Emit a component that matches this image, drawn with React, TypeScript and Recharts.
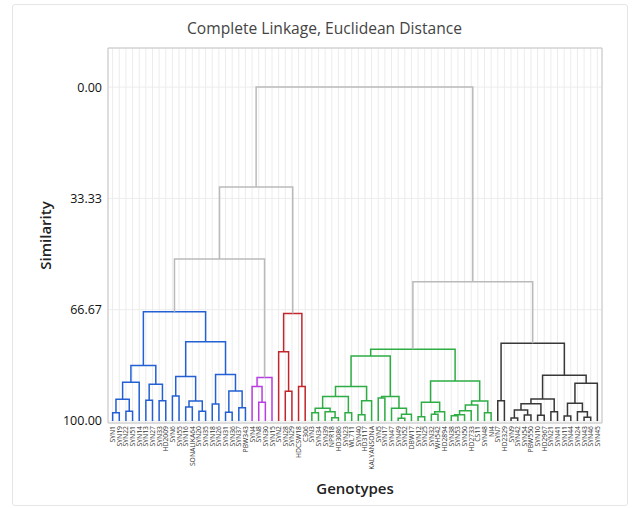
import React from 'react';
import {
  ComposedChart,
  Line,
  XAxis,
  YAxis,
  CartesianGrid,
  ReferenceArea,
  Label,
} from 'recharts';

// leaf order as it appears along the x axis
const leaves = [
  'SYN1', 'SYN19', 'SYN22', 'SYN51', 'SYN14', 'SYN13', 'SYN27', 'SYN33', 'HD2009', 'SYN6',
  'SYN55', 'SYN16', 'SONALIKA64', 'SYN20', 'SYN35', 'SYN18', 'SYN26', 'SYN31', 'SYN36', 'SYN37',
  'PBW343', 'SYN4', 'SYN8', 'SYN30', 'SYN15', 'SYN2', 'SYN28', 'SYN29', 'HDCSW18', 'C306',
  'SYN3', 'SYN34', 'SYN39', 'NPR18', 'HD3086', 'SYN23', 'WL711', 'SYN40', 'HD3117', 'KALYANSONA',
  'SYN5', 'SYN17', 'SYN47', 'SYN49', 'SYN52', 'DBW17', 'SYN12', 'SYN25', 'SYN32', 'WH542',
  'HD2894', 'SYN38', 'SYN53', 'SYN50', 'HD2733', 'CS11', 'SYN48', 'NI4', 'SYN7', 'HD2329',
  'SYN9', 'SYN42', 'SYN54', 'PBW550', 'SYN10', 'HD2967', 'SYN21', 'SYN41', 'SYN11', 'SYN44',
  'SYN24', 'SYN43', 'SYN46', 'SYN45',
];

// merges: [left, right, similarity]; string = leaf, number = earlier merge
type Ref = string | number;
const merges: [Ref, Ref, number][] = [
  ['SYN1', 'SYN19', 97.5],
  ['SYN22', 'SYN51', 97.1],
  [0, 1, 93.5],
  [2, 'SYN14', 88.4],
  ['SYN13', 'SYN27', 93.8],
  ['SYN33', 'HD2009', 93.9],
  [4, 5, 89.0],
  [3, 6, 83.4],
  ['SYN6', 'SYN55', 92.5],
  ['SYN16', 'SONALIKA64', 95.8],
  ['SYN20', 'SYN35', 97.1],
  [9, 10, 94.0],
  [8, 11, 86.7],
  ['SYN18', 'SYN26', 94.9],
  ['SYN31', 'SYN36', 97.4],
  ['SYN37', 'PBW343', 96.0],
  [14, 15, 91.0],
  [13, 16, 86.1],
  [12, 17, 76.3],
  [7, 18, 67.3],
  ['SYN8', 'SYN30', 94.4],
  ['SYN4', 20, 89.7],
  [21, 'SYN15', 87.0],
  ['SYN28', 'SYN29', 91.1],
  ['SYN2', 23, 79.3],
  ['HDCSW18', 'C306', 89.7],
  [24, 25, 67.8],
  [19, 22, 51.5],
  [27, 26, 29.9],
  ['SYN3', 'SYN34', 97.5],
  ['NPR18', 'HD3086', 99.0],
  ['SYN39', 30, 97.2],
  [29, 31, 96.2],
  ['SYN23', 'WL711', 97.5],
  [32, 33, 92.7],
  ['SYN40', 'HD3117', 98.1],
  [35, 'KALYANSONA', 93.9],
  [34, 36, 89.7],
  ['SYN5', 'SYN17', 93.1],
  ['SYN49', 'SYN52', 99.2],
  [39, 'DBW17', 98.0],
  ['SYN47', 40, 96.2],
  [38, 41, 92.7],
  [37, 42, 80.5],
  ['SYN12', 'SYN25', 98.7],
  ['SYN32', 'WH542', 98.0],
  [45, 'HD2894', 97.2],
  [44, 46, 94.4],
  ['SYN38', 'SYN53', 98.4],
  [48, 'SYN50', 98.1],
  [49, 'HD2733', 96.9],
  [50, 'CS11', 95.2],
  ['SYN48', 'NI4', 97.5],
  [51, 52, 94.0],
  [47, 53, 88.0],
  [43, 54, 78.5],
  ['SYN7', 'HD2329', 93.9],
  ['SYN9', 'SYN42', 99.1],
  ['SYN54', 'PBW550', 98.2],
  [57, 58, 96.7],
  ['SYN10', 'HD2967', 98.3],
  [59, 60, 94.8],
  ['SYN21', 'SYN41', 97.2],
  [61, 62, 93.4],
  ['SYN11', 'SYN44', 98.5],
  ['SYN43', 'SYN46', 98.9],
  ['SYN24', 65, 97.2],
  [64, 66, 94.7],
  [67, 'SYN45', 88.7],
  [63, 68, 86.3],
  [56, 69, 76.7],
  [55, 70, 58.3],
  [28, 71, 0],
];

// cluster roots (merge index) and their colours
const clusterColors: Record<number, string> = {
  19: '#2360d4',
  22: '#b83ee2',
  26: '#c1272d',
  55: '#2ead44',
  70: '#383838',
};
const upperColor = '#bababa';

const yTicks = [0, 33.33, 66.67, 100];

const pos = (r: Ref, nodes: { x: number; h: number }[]) =>
  typeof r === 'string' ? { x: leaves.indexOf(r), h: 100 } : nodes[r];

const nodes: { x: number; h: number }[] = [];
merges.forEach(([a, b, h]) => {
  nodes.push({ x: (pos(a, nodes).x + pos(b, nodes).x) / 2, h });
});

const colors: string[] = merges.map(() => upperColor);
const paint = (i: number, c: string) => {
  const col = clusterColors[i] ?? c;
  colors[i] = col;
  merges[i].slice(0, 2).forEach((r) => {
    if (typeof r === 'number') paint(r, col);
  });
};
paint(merges.length - 1, upperColor);

const links = merges.map(([a, b, h], i) => {
  const l = pos(a, nodes);
  const r = pos(b, nodes);
  return {
    color: colors[i],
    data: [
      { x: l.x, y: l.h },
      { x: l.x, y: h },
      { x: r.x, y: h },
      { x: r.x, y: r.h },
    ],
  };
});

const font = '"Open Sans", "Noto Sans", sans-serif';

const LeafTick = ({ x, y, payload }: any) => (
  <text
    x={x}
    y={y}
    transform={`rotate(-90 ${x} ${y})`}
    textAnchor="end"
    dominantBaseline="central"
    fontSize={6.8}
    fontFamily={font}
    fill="#333"
  >
    {leaves[payload.value]}
  </text>
);

export default function App() {
  return (
    <div style={{ position: 'absolute', left: 0, top: 0, width: 639, height: 508, background: '#fff', fontFamily: font }}>
      <div
        style={{
          position: 'absolute',
          left: 12,
          top: 4,
          width: 614,
          height: 500,
          border: '1px solid #e6e6e6',
          borderRadius: 3,
        }}
      />
      <div
        style={{
          position: 'absolute',
          left: 0,
          width: 649,
          top: 18,
          lineHeight: '20px',
          textAlign: 'center',
          fontSize: 15.6,
          color: '#444',
        }}
      >
        Complete Linkage, Euclidean Distance
      </div>
      <div style={{ position: 'absolute', left: 0, top: 0 }}>
        <ComposedChart width={639} height={508} margin={{ top: 48, right: 37, bottom: 0, left: 0 }}>
          <CartesianGrid stroke="#ececec" />
          <XAxis
            type="number"
            dataKey="x"
            domain={[-0.7, 73.7]}
            ticks={leaves.map((_, i) => i)}
            interval={0}
            tick={<LeafTick />}
            tickLine={false}
            axisLine={false}
            tickSize={0}
            tickMargin={3}
            height={85}
            allowDataOverflow
          >
            <Label
              content={({ viewBox }: any) => (
                <text
                  x={viewBox.x + viewBox.width / 2}
                  y={488}
                  textAnchor="middle"
                  dominantBaseline="central"
                  fontSize={15}
                  fontWeight={600}
                  fontFamily={font}
                  fill="#222"
                >
                  Genotypes
                </text>
              )}
            />
          </XAxis>
          <YAxis
            type="number"
            dataKey="y"
            reversed
            domain={[-11.7, 100.6]}
            ticks={yTicks}
            tickFormatter={(v: number) => v.toFixed(2)}
            tick={{ fontSize: 12.5, fill: '#111', fontFamily: font }}
            tickLine={false}
            axisLine={false}
            tickSize={4}
            width={108}
            allowDataOverflow
          >
            <Label
              content={({ viewBox }: any) => (
                <text
                  x={45}
                  y={viewBox.y + viewBox.height / 2}
                  transform={`rotate(-90 45 ${viewBox.y + viewBox.height / 2})`}
                  textAnchor="middle"
                  dominantBaseline="central"
                  fontSize={15}
                  fontWeight={600}
                  fontFamily={font}
                  fill="#222"
                >
                  Similarity
                </text>
              )}
            />
          </YAxis>
          <ReferenceArea x1={-0.7} x2={73.7} y1={-11.7} y2={100.6} fill="none" stroke="#c6c6c6" />
          {links.map((lk, i) => (
            <Line
              key={i}
              data={lk.data}
              dataKey="y"
              type="linear"
              stroke={lk.color}
              strokeWidth={1.5}
              dot={false}
              activeDot={false}
              isAnimationActive={false}
            />
          ))}
        </ComposedChart>
      </div>
    </div>
  );
}
